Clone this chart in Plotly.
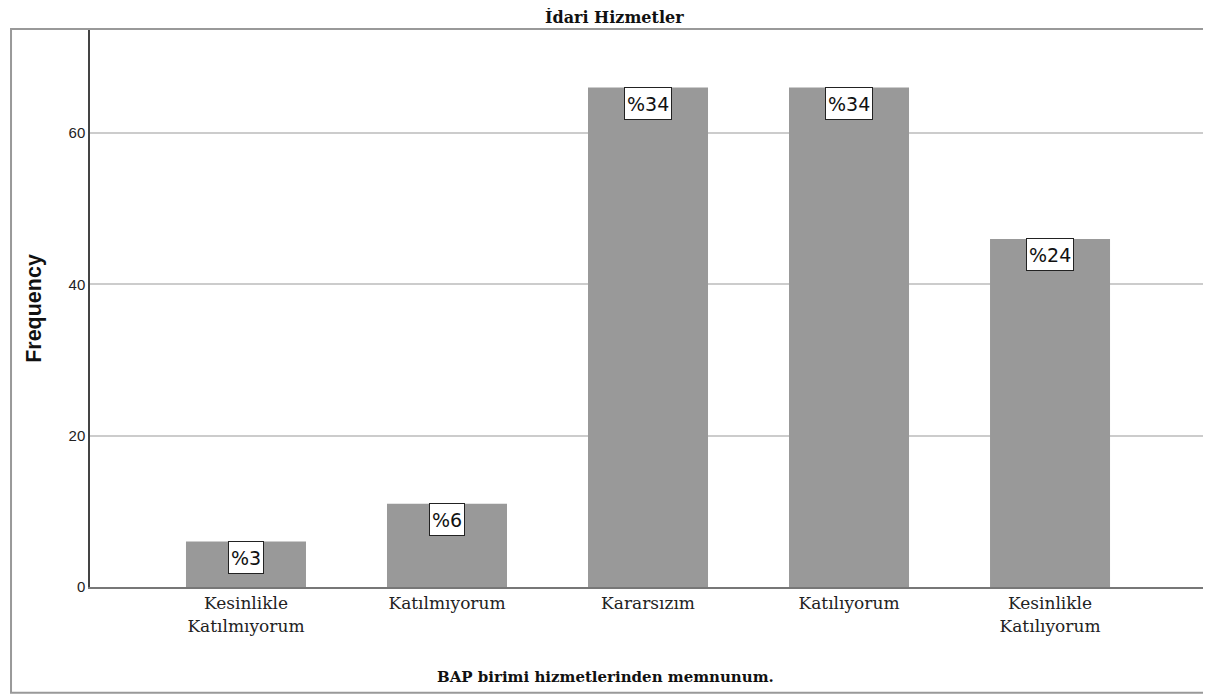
import plotly.graph_objects as go

categories = ["Kesinlikle<br>Katılmıyorum", "Katılmıyorum", "Kararsızım", "Katılıyorum", "Kesinlikle<br>Katılıyorum"]
frequencies = [6, 11, 66, 66, 46]
percent_labels = ["%3", "%6", "%34", "%34", "%24"]

fig = go.Figure()
fig.add_trace(go.Bar(
    x=list(range(len(categories))), y=frequencies,
    width=0.597, marker=dict(color="#999999", line=dict(width=0)),
    hoverinfo="skip",
))

for i, (v, lab) in enumerate(zip(frequencies, percent_labels)):
    fig.add_annotation(x=i, y=v, text=lab, showarrow=False, yanchor="top", yshift=1,
                       font=dict(family="DejaVu Sans", size=19, color="#111111"),
                       height=27, valign="middle",
                       bgcolor="white", bordercolor="#222222", borderwidth=1, borderpad=2)

# outer chart frame
fig.add_shape(type="rect", xref="paper", yref="paper",
              x0=-0.0709, x1=1.0018, y0=-0.190, y1=1.0018,
              line=dict(color="#999999", width=2), layer="below")

# chart title
fig.add_annotation(xref="paper", yref="paper", x=(614 - 90) / 1114, y=(587 - 17) / 557,
                   text="<b>İdari Hizmetler</b>", showarrow=False, xanchor="center", yanchor="middle",
                   font=dict(family="DejaVu Serif", size=16, color="#111111"))

# x-axis title
fig.add_annotation(xref="paper", yref="paper", x=(605 - 90) / 1114, y=(587 - 677) / 557,
                   text="<b>BAP birimi hizmetlerinden memnunum.</b>", showarrow=False,
                   xanchor="center", yanchor="middle",
                   font=dict(family="DejaVu Serif", size=15, color="#111111"))

fig.update_layout(
    width=1203, height=689,
    margin=dict(l=82, r=7, t=22, b=110),
    paper_bgcolor="white", plot_bgcolor="white",
    showlegend=False,
    xaxis=dict(range=[-0.776, 4.766], tickmode="array", tickvals=list(range(len(categories))),
               ticktext=categories, showgrid=False, zeroline=False,
               showline=True, linecolor="#777777", linewidth=2, ticks="",
               tickfont=dict(family="DejaVu Serif", size=17, color="#222222")),
    yaxis=dict(range=[0, 73.6], tickvals=[0, 20, 40, 60], showgrid=True, gridcolor="#cccccc",
               gridwidth=1.5, zeroline=False, showline=True, linecolor="#444444", linewidth=1.5,
               ticks="", tickfont=dict(family="Liberation Sans", size=15, color="#222222"),
               title=dict(text="<b>Frequency</b>", standoff=21,
                          font=dict(family="Liberation Sans", size=21.5, color="#111111"))),
)

fig.write_html("out.html")
